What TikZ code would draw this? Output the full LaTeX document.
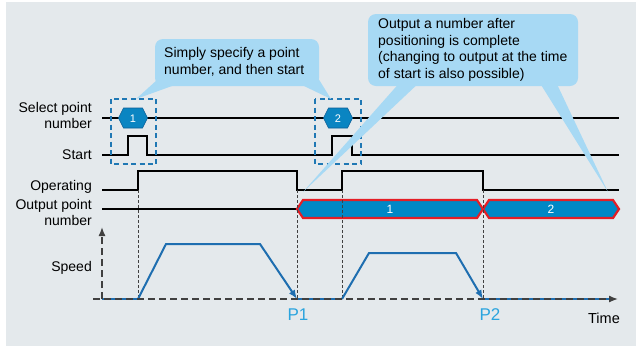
\documentclass[tikz,border=0pt]{standalone}
\usepackage{fontspec}
\setmainfont{Liberation Sans}
\usetikzlibrary{arrows.meta}
\definecolor{bgc}{HTML}{E4E9EC}
\definecolor{callc}{HTML}{A7D9F4}
\definecolor{hexfill}{HTML}{0A85C2}
\definecolor{hexdraw}{HTML}{0B5E96}
\definecolor{bandfill}{HTML}{0088C6}
\definecolor{bandred}{HTML}{E41E26}
\definecolor{boxblue}{HTML}{1F78B4}
\definecolor{speedblue}{HTML}{1E6EB0}
\definecolor{plabel}{HTML}{2AA4DE}
\definecolor{guide}{HTML}{404040}
\tikzset{
  lbl/.style={anchor=east,align=right,font=\fontsize{14}{16}\selectfont,inner sep=0pt},
  sig/.style={line width=1.6pt,black},
  selbox/.style={draw=boxblue,line width=2.5pt,dash pattern=on 5pt off 3.5pt},
  hexnum/.style={text=white,font=\fontsize{11}{12}\selectfont,inner sep=0pt},
  bandnum/.style={text=white,font=\fontsize{12}{13}\selectfont,inner sep=0pt},
  guideline/.style={draw=guide,line width=0.8pt,dash pattern=on 3pt off 2pt},
  speedline/.style={draw=speedblue,line width=2pt},
  axisline/.style={draw=guide,line width=1.4pt,dash pattern=on 7pt off 4pt},
  callout/.style={fill=callc},
  ctext/.style={anchor=west,align=left,font=\fontsize{14}{16.5}\selectfont,inner sep=0pt},
  plbl/.style={text=plabel,font=\fontsize{17}{18}\selectfont,inner sep=0pt}
}
\begin{document}
\begin{tikzpicture}[x=1pt,y=-1pt]
\useasboundingbox (0,0) rectangle (636,346);
\fill[bgc] (6,2) rectangle (636,346);

% labels
\node[lbl] (lsel) at (92,115) {Select point\\number};
\node[lbl] (lstart) at (92,155) {Start};
\node[lbl] (lop) at (92,187) {Operating};
\node[lbl] (lout) at (92,212) {Output point\\number};
\node[lbl] (lspeed) at (92,268) {Speed};

% select point number line and hexagons
\draw[sig] (102,118) -- (619,118);
\foreach \cx/\n in {133/1,338/2}{
  \filldraw[fill=hexfill,draw=hexdraw,line width=0.6pt]
    (\cx-14.5,118) -- (\cx-9.5,108) -- (\cx+9.5,108) -- (\cx+14.5,118) -- (\cx+9.5,128) -- (\cx-9.5,128) -- cycle;
  \node[hexnum] (hex\n) at (\cx,118.5) {\n};
}

% start signal
\draw[sig] (102,155) -- (128,155) -- (128,136) -- (147,136) -- (147,155) -- (332,155) -- (332,136) -- (352,136) -- (352,155) -- (619,155);

% dashed selection boxes
\draw[selbox] (111,99) rectangle (156,164);
\draw[selbox] (315,99) rectangle (361,164);

% operating signal
\draw[sig] (102,190) -- (138,190) -- (138,171) -- (297,171) -- (297,190) -- (342,190) -- (342,171) -- (483,171) -- (483,190) -- (619,190);

% output point number
\draw[sig] (102,209) -- (297,209);
\filldraw[fill=bandfill,draw=bandred,line width=2.2pt,line join=miter]
  (297,209) -- (303,200) -- (477,200) -- (483,209) -- (477,218) -- (303,218) -- cycle;
\filldraw[fill=bandfill,draw=bandred,line width=2.2pt,line join=miter]
  (483,209) -- (489,200) -- (613,200) -- (619,209) -- (613,218) -- (489,218) -- cycle;
\node[bandnum] (band1) at (390,209) {1};
\node[bandnum] (band2) at (551,209) {2};

% guide lines
\foreach \gx in {138,297,342,483}{
  \draw[guideline] (\gx,190) -- (\gx,299);
}

% speed profile
\draw[speedline] (102,299) -- (138,299);
\draw[speedline,-{Latex[length=9pt,width=7pt]}] (138,299) -- (166,244) -- (260,244) -- (297,299);
\draw[speedline] (297,299) -- (342,299);
\draw[speedline,-{Latex[length=9pt,width=7pt]}] (342,299) -- (369,253) -- (456,253) -- (483,299);
\draw[speedline] (483,299) -- (610,299);

% axes
\draw[axisline,-{Latex[length=9pt,width=7pt]}] (93,299) -- (618,299);
\draw[axisline,-{Latex[length=9pt,width=7pt]}] (102,299) -- (102,227);

\node[plbl] (p1) at (298,315) {P1};
\node[plbl] (p2) at (490,315) {P2};
\node[font=\fontsize{14.5}{16}\selectfont,inner sep=0pt] (time) at (604,318) {Time};

% callout 1
\fill[callout,rounded corners=8pt] (155,39) rectangle (319,86);
\fill[callout] (157,80) -- (172,86) -- (136,99) -- cycle;
\fill[callout] (304,86) -- (318,78) -- (331,99) -- cycle;
\node[ctext] (c1) at (164,62) {Simply specify a point\\number, and then start};

% callout 2
\fill[callout,rounded corners=8pt] (368,14) rectangle (578,86);
\fill[callout] (402,80) -- (422,80) -- (303,192) -- cycle;
\fill[callout] (538,80) -- (555,80) -- (608,192) -- cycle;
\node[ctext] (c2) at (378,50) {Output a number after\\positioning is complete\\(changing to output at the time\\of start is also possible)};
\end{tikzpicture}
\end{document}
